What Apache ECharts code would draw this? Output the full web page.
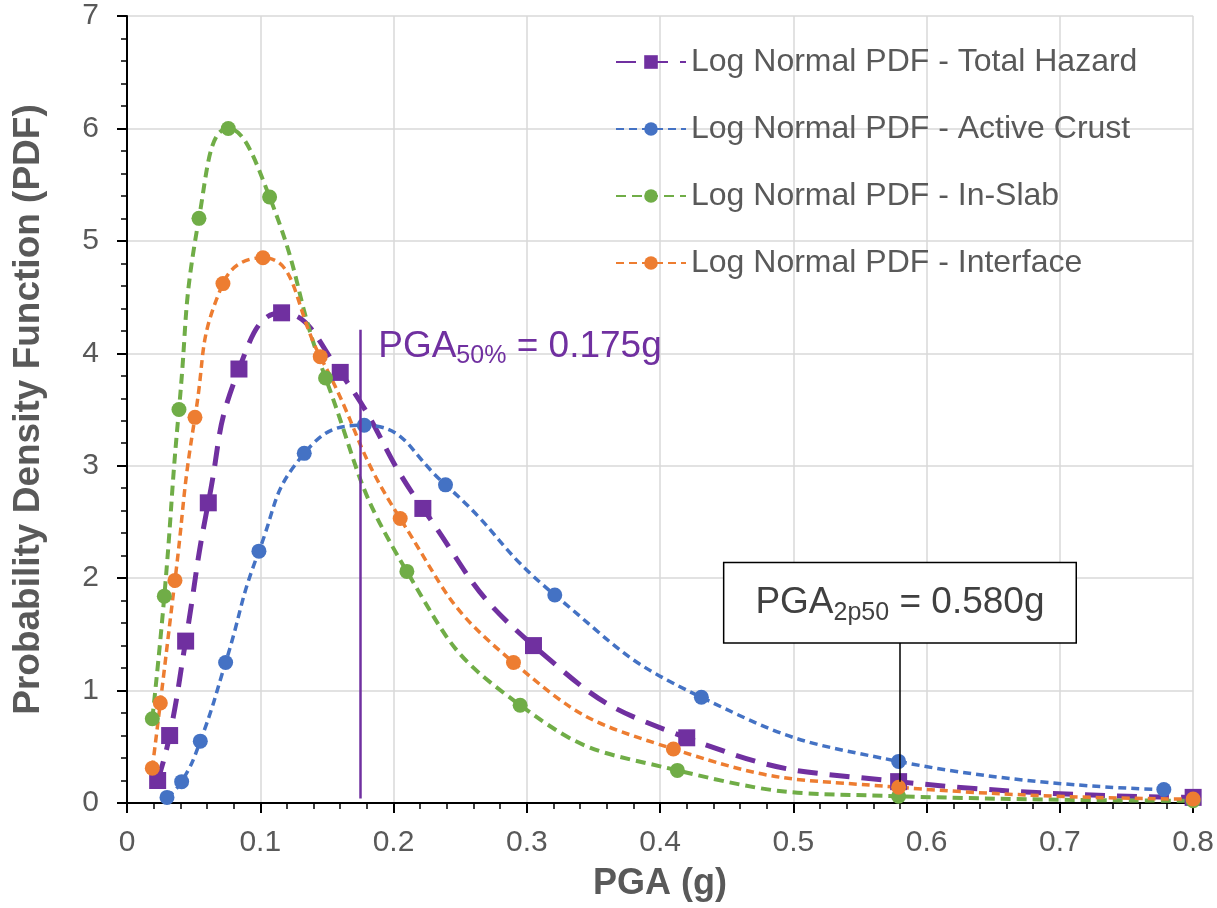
<!DOCTYPE html>
<html>
<head>
<meta charset="utf-8">
<script src="https://cdn.jsdelivr.net/npm/echarts@6/dist/echarts.min.js"></script>
<style>
  html, body { margin: 0; padding: 0; background: #fff; }
  #chart { width: 1217px; height: 908px; }
</style>
</head>
<body>
<div id="chart"></div>
<script>
// 数据 - 点
const totalX = [0.023, 0.032, 0.044, 0.061, 0.084, 0.116, 0.160, 0.222, 0.305, 0.420, 0.579, 0.800];
const totalY = [0.20, 0.60, 1.44, 2.67, 3.86, 4.36, 3.83, 2.62, 1.40, 0.58, 0.19, 0.05];

const crustX = [0.030, 0.041, 0.055, 0.074, 0.099, 0.133, 0.178, 0.239, 0.321, 0.431, 0.579, 0.778];
const crustY = [0.05, 0.19, 0.55, 1.25, 2.24, 3.11, 3.36, 2.83, 1.85, 0.94, 0.37, 0.12];

const slabX = [0.019, 0.028, 0.039, 0.054, 0.076, 0.107, 0.149, 0.210, 0.295, 0.413, 0.579, 0.800];
const slabY = [0.75, 1.84, 3.50, 5.20, 6.00, 5.39, 3.78, 2.06, 0.87, 0.29, 0.06, 0.02];

const interfaceX = [0.019, 0.025, 0.036, 0.051, 0.072, 0.102, 0.145, 0.205, 0.290, 0.410, 0.579, 0.800];
const interfaceY = [0.31, 0.89, 1.98, 3.43, 4.62, 4.85, 3.97, 2.53, 1.25, 0.48, 0.14, 0.035];

const seriesNames = [
    'Log Normal PDF - Total Hazard',
    'Log Normal PDF - Active Crust',
    'Log Normal PDF - In-Slab',
    'Log Normal PDF - Interface'
];

// 标注
const pga50 = 0.175;
const pga50Line = [0.04, 4.21];
const pga2p50 = 0.58;
const pga2p50Line = [0.19, 1.43];

const pairs = (xs, ys) => xs.map((x, i) => [x, ys[i]]);

const richText = {
    a: { fontSize: 37, lineHeight: 44 },
    b: { fontSize: 25, lineHeight: 24, verticalAlign: 'bottom' }
};

const chart = echarts.init(document.getElementById('chart'));
chart.setOption({
    animation: false,
    textStyle: { fontFamily: 'Liberation Sans, Arial, sans-serif' },
    grid: {
        left: 127,
        right: 18,
        top: 16,
        bottom: 105
    },
    legend: {
        data: seriesNames,
        orient: 'vertical',
        left: 615,
        top: 44,
        padding: 0,
        itemGap: 31,
        itemWidth: 70,
        itemHeight: 17,
        textStyle: { color: '#595959', fontSize: 32, lineHeight: 36 }
    },
    xAxis: {
        type: 'value',
        min: 0,
        max: 0.8,
        interval: 0.1,
        name: 'PGA (g)',
        nameLocation: 'middle',
        nameGap: 63,
        nameTextStyle: { color: '#595959', fontSize: 36, fontWeight: 'bold' },
        axisLine: { show: true, onZero: false, lineStyle: { color: '#000', width: 2 } },
        axisTick: { show: true, length: 10, lineStyle: { color: '#000', width: 2 } },
        minorTick: { show: true, splitNumber: 5, length: 6, lineStyle: { color: '#000', width: 1.5 } },
        axisLabel: { color: '#595959', fontSize: 30, margin: 25 },
        splitLine: { show: true, lineStyle: { color: '#d9d9d9', width: 1.5 } }
    },
    yAxis: {
        type: 'value',
        min: 0,
        max: 7,
        interval: 1,
        name: 'Probability Density Function (PDF)',
        nameLocation: 'middle',
        nameGap: 80,
        nameTextStyle: { color: '#595959', fontSize: 37, fontWeight: 'bold' },
        axisLine: { show: true, lineStyle: { color: '#000', width: 2 } },
        axisTick: { show: true, length: 10, lineStyle: { color: '#000', width: 2 } },
        minorTick: { show: true, splitNumber: 5, length: 6, lineStyle: { color: '#000', width: 1.5 } },
        axisLabel: { color: '#595959', fontSize: 30, margin: 28 },
        splitLine: { show: true, lineStyle: { color: '#d9d9d9', width: 1.5 } }
    },
    series: [
        {
            name: seriesNames[0],
            type: 'line',
            smooth: true,
            data: pairs(totalX, totalY),
            symbol: 'rect',
            symbolSize: 17,
            itemStyle: { color: '#7030A0' },
            lineStyle: { color: '#7030A0', width: 5, type: [20, 12] },
            markLine: {
                silent: true,
                symbol: ['none', 'none'],
                label: { show: false },
                data: [
                    [
                        { coord: [pga50, pga50Line[0]], lineStyle: { color: '#7030A0', width: 2.5, type: 'solid' } },
                        { coord: [pga50, pga50Line[1]] }
                    ],
                    [
                        { coord: [pga2p50, pga2p50Line[0]], lineStyle: { color: '#000', width: 1.5, type: 'solid' } },
                        { coord: [pga2p50, pga2p50Line[1]] }
                    ]
                ]
            },
            markPoint: {
                silent: true,
                symbol: 'circle',
                symbolSize: 0,
                data: [
                    {
                        coord: [pga50, pga50Line[1]],
                        label: {
                            show: true,
                            position: 'right',
                            distance: 18,
                            offset: [0, 17],
                            color: '#7030A0',
                            formatter: '{a|PGA}{b|50%}{a| = 0.175g}',
                            rich: richText
                        }
                    },
                    {
                        coord: [pga2p50, pga2p50Line[1]],
                        label: {
                            show: true,
                            position: 'top',
                            distance: 0,
                            color: '#404040',
                            backgroundColor: '#fff',
                            borderColor: '#000',
                            borderWidth: 1.5,
                            padding: [18, 31, 17, 31],
                            formatter: '{a|PGA}{b|2p50}{a| = 0.580g}',
                            rich: richText
                        }
                    }
                ]
            }
        },
        {
            name: seriesNames[1],
            type: 'line',
            smooth: true,
            data: pairs(crustX, crustY),
            symbol: 'circle',
            symbolSize: 15,
            itemStyle: { color: '#4472C4' },
            lineStyle: { color: '#4472C4', width: 3.5, type: [8, 5] }
        },
        {
            name: seriesNames[2],
            type: 'line',
            smooth: true,
            data: pairs(slabX, slabY),
            symbol: 'circle',
            symbolSize: 15,
            itemStyle: { color: '#70AD47' },
            lineStyle: { color: '#70AD47', width: 4, type: [10, 6] }
        },
        {
            name: seriesNames[3],
            type: 'line',
            smooth: true,
            data: pairs(interfaceX, interfaceY),
            symbol: 'circle',
            symbolSize: 15,
            itemStyle: { color: '#ED7D31' },
            lineStyle: { color: '#ED7D31', width: 3.5, type: [8, 5] }
        }
    ]
});
</script>
</body>
</html>
